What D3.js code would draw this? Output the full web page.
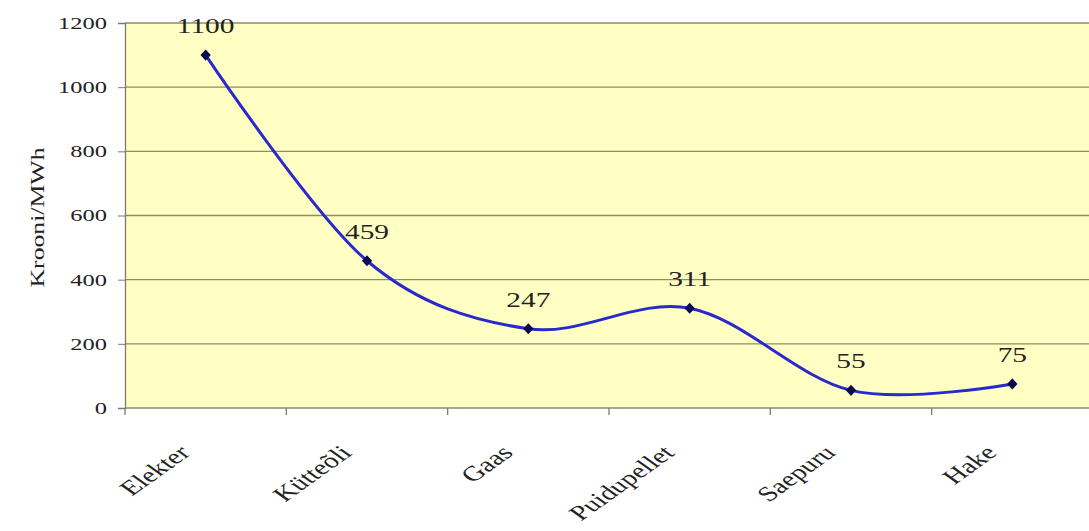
<!DOCTYPE html>
<html>
<head>
<meta charset="utf-8">
<script src="https://cdn.jsdelivr.net/npm/d3@7"></script>
<style>
  body { margin: 0; background: #fff; }
  svg { display: block; font-family: "Liberation Serif", "DejaVu Serif", serif; }
</style>
</head>
<body>
<div id="chart"></div>
<script>
// Fuel prices, krooni per MWh
const categories = ['Elekter', 'Kütteõli', 'Gaas', 'Puidupellet', 'Saepuru', 'Hake'];
const prices = [1100, 459, 247, 311, 55, 75];
const yTicks = [0, 200, 400, 600, 800, 1000, 1200];

const width = 1089;
const height = 531;
const margin = { top: 23, right: -4, bottom: 123, left: 125 };
const stretch = 1.4; // the original chart was widened, text included

const svg = d3.select('#chart')
  .append('svg')
  .attr('width', width)
  .attr('height', height);

const x = d3.scaleBand()
  .domain(categories)
  .range([margin.left, width - margin.right]);

const y = d3.scaleLinear()
  .domain([0, 1200])
  .range([height - margin.bottom, margin.top]);

// plot background
svg.append('rect')
  .attr('x', margin.left)
  .attr('y', margin.top)
  .attr('width', width - margin.right - margin.left)
  .attr('height', y(0) - margin.top)
  .attr('fill', '#ffffc4');

// horizontal gridlines
svg.append('g')
  .selectAll('line')
  .data(yTicks)
  .join('line')
    .attr('x1', margin.left)
    .attr('x2', width - margin.right)
    .attr('y1', d => y(d))
    .attr('y2', d => y(d))
    .attr('stroke', '#8c8c68')
    .attr('stroke-width', 1.3);

// y axis (line + ticks), labels drawn separately so they can be widened
const yAxis = svg.append('g')
  .attr('transform', `translate(${margin.left},0)`)
  .call(d3.axisLeft(y).tickValues(yTicks).tickSize(7).tickFormat(''));
yAxis.select('.domain').attr('stroke', '#7a7a70').attr('stroke-width', 1.3);
yAxis.selectAll('.tick line').attr('stroke', '#7a7a70');

svg.append('g')
  .selectAll('text')
  .data(yTicks)
  .join('text')
    .attr('transform', d => `translate(107,${y(d)}) scale(${stretch},1)`)
    .attr('dy', '0.34em')
    .attr('text-anchor', 'end')
    .attr('font-size', 17.5)
    .attr('fill', '#222')
    .text(d => d3.format('d')(d));

// x axis: ticks on band boundaries
const bounds = categories.map(c => x(c));
svg.append('g')
  .selectAll('line')
  .data(bounds)
  .join('line')
    .attr('x1', d => d)
    .attr('x2', d => d)
    .attr('y1', y(0))
    .attr('y2', y(0) + 7)
    .attr('stroke', '#7a7a70')
    .attr('stroke-width', 1.3);

svg.append('g')
  .selectAll('text')
  .data(categories)
  .join('text')
    .attr('transform', d => `translate(${x(d) + x.bandwidth() / 2 - 14},${y(0) + 46}) scale(${stretch},1) rotate(-45)`)
    .attr('text-anchor', 'end')
    .attr('font-size', 21)
    .attr('fill', '#222')
    .text(d => d);

// y axis title
svg.append('text')
  .attr('transform', `translate(44,${(margin.top + y(0)) / 2 + 2}) rotate(-90)`)
  .attr('text-anchor', 'middle')
  .attr('font-size', 18)
  .attr('textLength', 140)
  .attr('lengthAdjust', 'spacingAndGlyphs')
  .attr('fill', '#222')
  .text('Krooni/MWh');

// smoothed line
const pts = categories.map((c, i) => [x(c) + x.bandwidth() / 2, y(prices[i])]);

svg.append('path')
  .datum(pts)
  .attr('fill', 'none')
  .attr('stroke', '#2a2acc')
  .attr('stroke-width', 3)
  .attr('d', d3.line().curve(d3.curveCardinal.tension(0)));

// diamond markers
svg.append('g')
  .selectAll('path')
  .data(pts)
  .join('path')
    .attr('transform', d => `translate(${d[0]},${d[1]}) scale(1.6,1)`)
    .attr('d', d3.symbol(d3.symbolDiamond, 36))
    .attr('fill', '#0a0a50');

// data labels
svg.append('g')
  .selectAll('text')
  .data(pts)
  .join('text')
    .attr('transform', d => `translate(${d[0]},${d[1] - 22}) scale(${stretch},1)`)
    .attr('text-anchor', 'middle')
    .attr('font-size', 21)
    .attr('fill', '#222')
    .text((d, i) => prices[i]);
</script>
</body>
</html>
